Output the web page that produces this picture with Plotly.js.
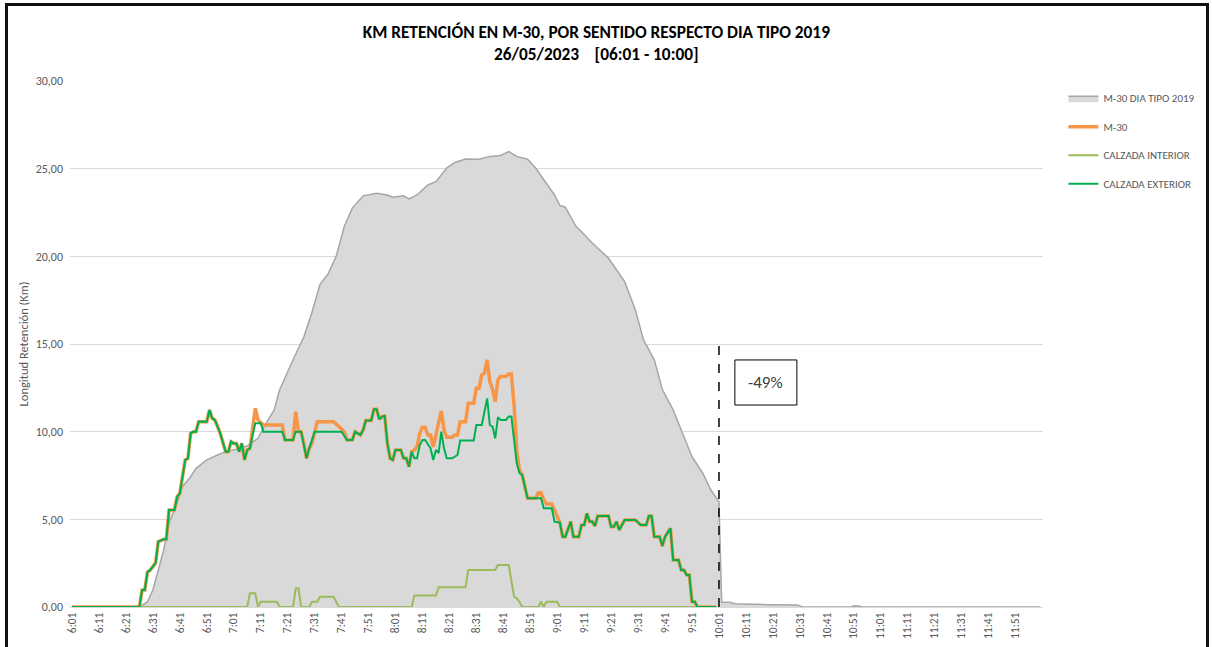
<!DOCTYPE html>
<html>
<head>
<meta charset="utf-8">
<script src="https://cdn.plot.ly/plotly-3.0.1.min.js"></script>
<style>
  html, body { margin: 0; padding: 0; background: #fff; }
  #wrap { position: relative; width: 1212px; height: 647px; overflow: hidden; }
  #chart { width: 1212px; height: 647px; }
  #frame { position: absolute; left: 5px; top: 3px; width: 1204px; height: 660px;
           border: 3px solid #111; pointer-events: none; box-sizing: border-box; }
</style>
</head>
<body>
<div id="wrap"><div id="chart"></div><div id="frame"></div></div>
<script>
// x values are minutes after 6:00 (1 = 6:01)
const tickLabels = ["6:01","6:11","6:21","6:31","6:41","6:51","7:01","7:11","7:21","7:31","7:41","7:51",
  "8:01","8:11","8:21","8:31","8:41","8:51","9:01","9:11","9:21","9:31","9:41","9:51",
  "10:01","10:11","10:21","10:31","10:41","10:51","11:01","11:11","11:21","11:31","11:41","11:51"];

// M-30 DIA TIPO 2019 (reference day)
const tipoMin = [1,26,29,31,33,35,37,40,42,45,47,51,55,58,62,66,70,73,76,78,83,87,90,93,96,99,102,105,109,114,118,120,124,126,129,133,136,140,143,147,152,156,160,163,166,170,173,178,180,182,184,188,189,194,198,200,206,210,213,217,220,224,228,231,235,238,241,242,245,247,260,270,272,290,291,293,294,360];
const tipoKm  = [0,0,0.3,0.97,2.1,3.25,4.79,5.93,6.86,7.43,7.91,8.39,8.67,8.86,9.0,9.18,9.62,10.48,11.24,12.38,14.1,15.4,16.8,18.4,19.0,20.0,21.7,22.75,23.45,23.6,23.5,23.37,23.45,23.27,23.5,24.07,24.26,25.04,25.35,25.55,25.54,25.7,25.75,25.97,25.7,25.54,25.04,23.9,23.5,22.9,22.8,21.7,21.56,20.76,20.2,19.9,18.56,16.94,15.23,14.1,12.4,11.24,9.71,8.57,7.63,6.67,6.0,0.27,0.27,0.18,0.13,0.12,0,0,0.07,0.06,0,0];

// M-30 (total)
const m30Min = [1,26,27,28,29,30,32,33,35,36,37,39,40,41,43,44,45,46,47,48,51,52,53,54,56,58,59,60,61,62,63,64,65,66,67,69,70,72,79,80,83,84,85,86,87,88,89,90,92,98,100,102,103,105,106,108,109,110,112,113,114,115,116,117,118,119,120,121,123,124,125,126,127,128,129,130,131,132,133,134,135,136,138,139,140,142,143,144,145,147,148,150,151,152,153,154,155,156,157,158,159,160,162,163,164,165,166,167,168,170,173,174,175,176,177,179,180,181,182,183,184,186,187,189,190,191,192,193,194,195,196,200,201,202,203,204,206,210,212,214,215,216,217,219,220,221,223,224,226,227,228,229,230,231,232,233,240];
const m30Km  = [0,0,0.97,0.97,2.0,2.1,2.5,3.73,3.86,3.86,5.53,5.53,6.29,6.48,8.39,8.48,9.9,10.0,10.0,10.57,10.57,11.24,10.76,10.67,9.9,8.86,8.86,9.43,9.33,9.33,8.86,9.33,8.39,8.96,9.05,11.33,10.67,10.38,10.38,9.53,9.53,11.14,10.0,10.0,9.33,8.48,9.05,9.33,10.57,10.57,10.29,10.0,9.53,9.53,10.0,9.81,10.1,10.63,10.63,11.28,11.28,10.7,10.86,10.9,9.33,8.48,8.39,8.96,8.96,8.48,8.48,8.0,8.86,8.96,9.14,9.9,10.25,10.25,9.81,9.81,9.14,9.81,11.18,10.1,9.68,9.68,9.81,9.81,10.57,10.57,11.62,11.62,12.48,12.48,13.23,13.33,14.09,12.85,12.42,11.71,12.95,13.14,13.14,13.29,13.29,11.5,8.9,7.8,7.53,6.2,6.2,6.52,6.52,6.1,5.88,5.88,5.5,5.06,4.81,4.01,4.01,4.87,4.01,4.01,4.68,4.68,5.34,4.87,4.87,4.62,5.19,5.19,4.58,4.58,4.87,4.39,4.96,4.96,4.68,4.68,5.19,5.19,4.01,4.01,3.48,4.01,4.49,2.68,2.68,2.11,2.11,1.83,1.83,0.3,0.3,0,0];

// CALZADA INTERIOR
const intMin = [1,66,67,69,70,71,77,78,83,84,85,86,89,90,92,93,98,99,100,127,128,136,137,147,148,158,159,163,164,165,166,167,168,174,175,176,177,181,182,240];
const intKm  = [0,0,0.78,0.78,0,0.3,0.3,0,0,1.07,1.07,0,0,0.3,0.3,0.59,0.59,0.3,0,0,0.65,0.65,1.12,1.12,2.11,2.11,2.4,2.4,1.35,0.59,0.49,0.3,0,0,0.3,0,0.3,0.3,0,0];

// CALZADA EXTERIOR
const extMin = [1,26,27,28,29,30,32,33,35,36,37,39,40,41,43,44,45,46,47,48,51,52,53,54,56,58,59,60,61,62,63,64,65,66,67,69,71,72,79,80,83,84,86,87,88,89,91,101,103,105,106,108,109,110,112,113,114,115,116,117,118,119,120,121,123,124,125,126,127,128,129,130,131,132,134,135,136,137,138,139,140,142,144,145,150,151,153,154,155,156,157,158,159,160,162,163,164,165,166,167,168,170,175,176,179,180,182,183,184,186,187,189,190,191,192,193,194,195,196,200,201,202,203,204,206,210,212,214,215,216,217,219,220,221,223,224,226,227,228,229,230,231,232,233,240];
const extKm  = [0,0,0.97,0.97,2.0,2.1,2.5,3.73,3.86,3.86,5.53,5.53,6.29,6.48,8.39,8.48,9.9,10.0,10.0,10.57,10.57,11.24,10.76,10.67,9.9,8.86,8.86,9.43,9.33,9.33,8.86,9.33,8.39,8.96,9.05,10.48,10.48,10.0,10.0,9.53,9.53,10.0,10.0,9.33,8.48,9.05,10.0,10.0,9.53,9.53,10.0,9.81,10.1,10.63,10.63,11.28,11.28,10.7,10.86,10.9,9.33,8.48,8.39,8.96,8.96,8.48,8.48,8.0,8.86,8.48,8.48,9.24,9.53,9.53,9.05,8.39,8.96,8.77,10.0,9.05,8.48,8.48,8.67,9.49,9.49,10.38,10.38,11.14,11.9,10.38,10.29,9.62,10.82,10.67,10.67,10.86,10.86,9.53,8.2,7.63,7.53,6.2,6.2,5.63,5.63,4.87,4.81,4.01,4.01,4.87,4.01,4.01,4.68,4.68,5.34,4.87,4.87,4.62,5.19,5.19,4.58,4.58,4.87,4.39,4.96,4.96,4.68,4.68,5.19,5.19,4.01,4.01,3.48,4.01,4.49,2.68,2.68,2.11,2.11,1.83,1.83,0.3,0.3,0,0];

const cutMin = 241;      // 10:01 marker
const cutTop = 15;
const deltaText = "-49%";

function toMin(s) { const p = s.split(":"); return (parseInt(p[0], 10) - 6) * 60 + parseInt(p[1], 10); }

const FONT = "Carlito, Lato, 'Liberation Sans', sans-serif";

const traces = [
  { x: tipoMin, y: tipoKm, name: "M-30 DIA TIPO 2019", legendgroup: "g1", type: "scatter", mode: "lines",
    fill: "tozeroy", fillcolor: "#D9D9D9", line: { color: "#A6A6A6", width: 1.5 } },
  { x: m30Min, y: m30Km, name: "M-30", legendgroup: "g2", type: "scatter", mode: "lines",
    line: { color: "#F79646", width: 3.5 } },
  { x: intMin, y: intKm, name: "CALZADA INTERIOR", legendgroup: "g3", type: "scatter", mode: "lines",
    line: { color: "#9BBB59", width: 2 } },
  { x: extMin, y: extKm, name: "CALZADA EXTERIOR", legendgroup: "g4", type: "scatter", mode: "lines",
    line: { color: "#00B050", width: 2 } }
];

const layout = {
  width: 1212, height: 647,
  margin: { l: 70, r: 169, t: 81, b: 40 },
  paper_bgcolor: "#fff", plot_bgcolor: "#fff",
  separators: ",.",
  font: { family: FONT, color: "#595959", size: 10 },
  title: {
    text: "<b>KM RETENCIÓN EN M-30, POR SENTIDO RESPECTO DIA TIPO 2019<br>26/05/2023\u00A0\u00A0\u00A0\u00A0[06:01 - 10:00]</b>",
    font: { family: FONT, size: 17.3, color: "#000" },
    xref: "container", x: 0.492, xanchor: "center",
    yref: "container", y: 1 - 38 / 647, yanchor: "middle"
  },
  showlegend: true,
  legend: {
    x: 1.021, xanchor: "left", y: 0.995, yanchor: "top",
    font: { family: FONT, size: 11, color: "#595959" },
    tracegroupgap: 9.5, traceorder: "grouped", bgcolor: "rgba(0,0,0,0)"
  },
  xaxis: {
    range: [0.26, 361.2],
    tickmode: "array",
    tickvals: tickLabels.map(toMin),
    ticktext: tickLabels,
    tickangle: -90,
    tickfont: { family: FONT, size: 11.5, color: "#595959" },
    showgrid: false, zeroline: false,
    showline: true, linecolor: "#D9D9D9", linewidth: 1,
    ticks: ""
  },
  yaxis: {
    range: [0, 30], dtick: 5, tickformat: ".2f",
    tickfont: { family: FONT, size: 12, color: "#595959" },
    ticklabelstandoff: 6,
    gridcolor: "#D9D9D9", gridwidth: 1, zeroline: false, showline: false,
    ticks: "",
    title: { text: "Longitud Retención (Km)", font: { family: FONT, size: 12.5, color: "#595959" }, standoff: 4 }
  },
  shapes: [
    { type: "line", xref: "x", yref: "y", x0: cutMin, x1: cutMin, y0: 0, y1: cutTop,
      line: { color: "#000", width: 1.5, dash: "dash" } },
    { type: "rect", xref: "x", yref: "y", x0: 246.9, x1: 269.9, y0: 11.52, y1: 14.09,
      fillcolor: "#fff", line: { color: "#000", width: 1 } }
  ],
  annotations: [
    { xref: "x", yref: "y", x: 258.4, y: 12.8, text: deltaText, showarrow: false,
      font: { family: FONT, size: 17, color: "#404040" } }
  ]
};

Plotly.newPlot("chart", traces, layout, { displayModeBar: false, staticPlot: true });
</script>
</body>
</html>
